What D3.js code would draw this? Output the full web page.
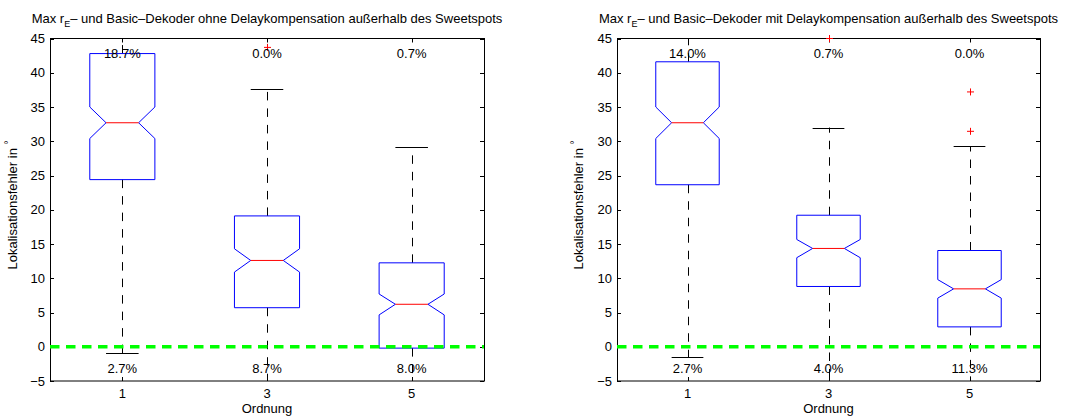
<!DOCTYPE html>
<html><head><meta charset="utf-8">
<script src="https://cdn.jsdelivr.net/npm/d3@7"></script>
<style>
html,body{margin:0;padding:0;background:#fff;}
text{font-family:"Liberation Sans",Arial,Helvetica,sans-serif;font-size:13px;fill:#000;}
</style></head>
<body>
<svg id="chart" width="1075" height="417"></svg>
<script>
// ---- data ----
const categories = [1, 3, 5];
const yTicks = [-5, 0, 5, 10, 15, 20, 25, 30, 35, 40, 45];

const leftTitleRest = "\u2013 und Basic\u2013Dekoder ohne Delaykompensation au\u00dferhalb des Sweetspots";
const leftQ1 = [24.4, 5.7, -0.2];
const leftMedian = [32.7, 12.6, 6.2];
const leftQ3 = [42.8, 19.1, 12.25];
const leftNotchLo = [30.4, 10.9, 4.65];
const leftNotchHi = [35.0, 14.3, 7.7];
const leftWhiskerLo = [-0.95, -8, -8];
const leftWhiskerHi = [50, 37.7, 29.1];
const leftOutliers = [[], [43.7], []];
const leftPctAbove = ["18.7%", "0.0%", "0.7%"];
const leftPctBelow = ["2.7%", "8.7%", "8.0%"];

const rightTitleRest = "\u2013 und Basic\u2013Dekoder mit Delaykompensation au\u00dferhalb des Sweetspots";
const rightQ1 = [23.65, 8.8, 2.9];
const rightMedian = [32.7, 14.35, 8.45];
const rightQ3 = [41.6, 19.2, 14.05];
const rightNotchLo = [30.4, 13.0, 7.1];
const rightNotchHi = [35.0, 15.66, 9.8];
const rightWhiskerLo = [-1.5, -8, -8];
const rightWhiskerHi = [50, 32.0, 29.25];
const rightOutliers = [[], [45], [37.2, 31.45]];
const rightPctAbove = ["14.0%", "0.7%", "0.0%"];
const rightPctBelow = ["2.7%", "4.0%", "11.3%"];

const panels = [
  {id:"L", x0:50, x1:484, ylabX:17, titleRest:leftTitleRest, q1:leftQ1, med:leftMedian, q3:leftQ3,
   nlo:leftNotchLo, nhi:leftNotchHi, wlo:leftWhiskerLo, whi:leftWhiskerHi, out:leftOutliers,
   above:leftPctAbove, below:leftPctBelow},
  {id:"R", x0:617, x1:1040, ylabX:583, titleRest:rightTitleRest, q1:rightQ1, med:rightMedian, q3:rightQ3,
   nlo:rightNotchLo, nhi:rightNotchHi, wlo:rightWhiskerLo, whi:rightWhiskerHi, out:rightOutliers,
   above:rightPctAbove, below:rightPctBelow}
];

const svg = d3.select("#chart");
const yTop = 38.5, yBot = 381;

panels.forEach(p => {
  const x = d3.scaleLinear().domain([0, 6]).range([p.x0, p.x1]);
  const y = d3.scaleLinear().domain([-5, 45]).range([yBot, yTop]);
  const g = svg.append("g");
  const clipId = "clip" + p.id;
  g.append("clipPath").attr("id", clipId).append("rect")
    .attr("x", p.x0).attr("y", yTop).attr("width", p.x1 - p.x0).attr("height", yBot - yTop);

  // axes box
  g.append("rect").attr("x", p.x0 + 0.5).attr("y", yTop).attr("width", p.x1 - p.x0).attr("height", yBot - yTop)
    .attr("fill", "none").attr("stroke", "#000").attr("stroke-width", 1);

  // y ticks (inside, left and right)
  const tl = 4;
  yTicks.forEach(v => {
    const yy = Math.round(y(v)) + 0.5;
    g.append("line").attr("x1", p.x0).attr("x2", p.x0 + tl).attr("y1", yy).attr("y2", yy).attr("stroke", "#000");
    g.append("line").attr("x1", p.x1 - tl).attr("x2", p.x1).attr("y1", yy).attr("y2", yy).attr("stroke", "#000");
    g.append("text").attr("x", p.x0 - 5).attr("y", y(v)).attr("dy", "0.35em").attr("text-anchor", "end").text(v === -5 ? "\u22125" : v);
  });
  categories.forEach(c => {
    const xx = Math.round(x(c)) + 0.5;
    g.append("line").attr("x1", xx).attr("x2", xx).attr("y1", yBot).attr("y2", yBot - tl).attr("stroke", "#000");
    g.append("line").attr("x1", xx).attr("x2", xx).attr("y1", yTop).attr("y2", yTop + tl).attr("stroke", "#000");
    g.append("text").attr("x", x(c)).attr("y", 393).attr("dy", "0.35em").attr("text-anchor", "middle").text(c);
  });

  // boxes
  const pg = g.append("g").attr("clip-path", `url(#${clipId})`);
  const bw = 0.45, cw = 0.225;
  categories.forEach((c, i) => {
    const xc = Math.round(x(c)) + 0.5;
    const xl = x(c - bw), xr = x(c + bw), nl = x(c - cw), nr = x(c + cw);
    // whiskers
    pg.append("line").attr("x1", xc).attr("x2", xc).attr("y1", y(p.q3[i])).attr("y2", y(p.whi[i]))
      .attr("stroke", "#000").attr("stroke-dasharray", "8.5,8");
    pg.append("line").attr("x1", xc).attr("x2", xc).attr("y1", y(p.q1[i])).attr("y2", y(p.wlo[i]))
      .attr("stroke", "#000").attr("stroke-dasharray", "8.5,8");
    [p.whi[i], p.wlo[i]].forEach(w => {
      const yy = Math.round(y(w)) + 0.5;
      pg.append("line").attr("x1", nl).attr("x2", nr).attr("y1", yy).attr("y2", yy).attr("stroke", "#000");
    });
    // notched box
    const pts = [
      [xl, y(p.q3[i])], [xr, y(p.q3[i])], [xr, y(p.nhi[i])], [nr, y(p.med[i])], [xr, y(p.nlo[i])],
      [xr, y(p.q1[i])], [xl, y(p.q1[i])], [xl, y(p.nlo[i])], [nl, y(p.med[i])], [xl, y(p.nhi[i])]
    ];
    pg.append("path").attr("d", d3.line()(pts) + "Z").attr("fill", "none").attr("stroke", "#0000ff").attr("stroke-width", 1);
    pg.append("line").attr("x1", nl).attr("x2", nr).attr("y1", y(p.med[i])).attr("y2", y(p.med[i]))
      .attr("stroke", "#ff0000").attr("stroke-width", 1);
    // outliers
    p.out[i].forEach(o => {
      const oy = y(o), s = 3.5;
      g.append("path").attr("d", `M${xc - s},${oy}H${xc + s}M${xc},${oy - s}V${oy + s}`)
        .attr("stroke", "#ff0000").attr("stroke-width", 1).attr("fill", "none");
    });
  });

  // green zero line
  pg.append("line").attr("x1", p.x0).attr("x2", p.x1).attr("y1", y(0)).attr("y2", y(0))
    .attr("stroke", "#00ff00").attr("stroke-width", 3.5).attr("stroke-dasharray", "9.5,6.5");

  // percent labels
  categories.forEach((c, i) => {
    g.append("text").attr("x", x(c)).attr("y", 53).attr("dy", "0.35em").attr("text-anchor", "middle").text(p.above[i]);
    g.append("text").attr("x", x(c)).attr("y", 368).attr("dy", "0.35em").attr("text-anchor", "middle").text(p.below[i]);
  });

  // title
  const t = g.append("text").attr("x", (p.x0 + p.x1) / 2).attr("y", 22.5).attr("text-anchor", "middle");
  t.append("tspan").text("Max r");
  t.append("tspan").attr("dy", 4).attr("font-size", "9px").text("E");
  t.append("tspan").attr("dy", -4).text(p.titleRest);

  // axis labels
  g.append("text").attr("x", x(3)).attr("y", 408).attr("dy", "0.35em").attr("text-anchor", "middle").text("Ordnung");
  const yl = g.append("text").attr("transform", `translate(${p.ylabX},205) rotate(-90)`).attr("text-anchor", "middle");
  yl.append("tspan").text("Lokalisationsfehler in ");
  yl.append("tspan").attr("dy", -5).attr("font-size", "10px").text("\u00b0");
});
</script>
</body></html>
